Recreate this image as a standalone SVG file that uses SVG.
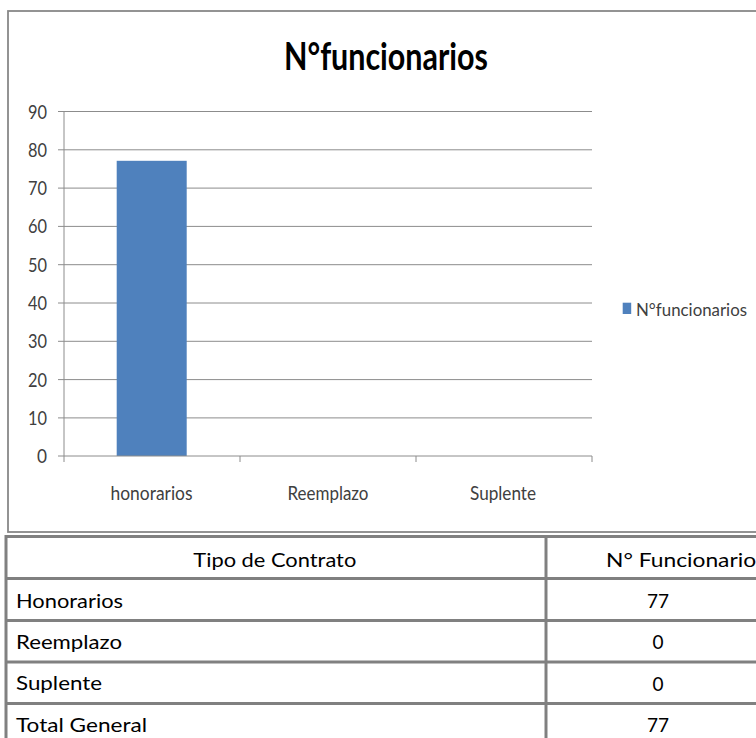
<svg xmlns="http://www.w3.org/2000/svg" width="756" height="738" viewBox="0 0 756 738">
<style>
text{font-family:Lato,"Liberation Sans",Arial,sans-serif;fill:#000}
.ax{font-size:18.5px;fill:#404040}
.leg{font-size:17px;fill:#404040}
.cat{font-size:18.5px;fill:#404040;text-anchor:middle}
.grid{stroke:#8c8c8c;stroke-width:1}
.tb{stroke:#808080;stroke-width:3;fill:none}
.cell{font-size:19px}
.num{font-size:19px;text-anchor:middle}
</style>
<rect width="756" height="738" fill="#fff"/>
<g id="chart">
<rect x="8" y="11" width="760" height="521" fill="#fff" stroke="#888" stroke-width="1.8"/>
<text x="284" y="70" font-size="38" font-weight="bold" textLength="204" lengthAdjust="spacingAndGlyphs">N°funcionarios</text>
<g id="gridlines">
<line class="grid" x1="58" y1="111.5" x2="592" y2="111.5"/>
<line class="grid" x1="58" y1="149.8" x2="592" y2="149.8"/>
<line class="grid" x1="58" y1="188.1" x2="592" y2="188.1"/>
<line class="grid" x1="58" y1="226.4" x2="592" y2="226.4"/>
<line class="grid" x1="58" y1="264.7" x2="592" y2="264.7"/>
<line class="grid" x1="58" y1="303" x2="592" y2="303"/>
<line class="grid" x1="58" y1="341.3" x2="592" y2="341.3"/>
<line class="grid" x1="58" y1="379.6" x2="592" y2="379.6"/>
<line class="grid" x1="58" y1="417.9" x2="592" y2="417.9"/>
</g>
<rect id="bar-honorarios" x="116.7" y="160.8" width="70" height="295.2" fill="#4f81bd"/>
<g id="axes">
<line class="grid" x1="64" y1="111" x2="64" y2="462"/>
<line class="grid" x1="58" y1="456" x2="592" y2="456"/>
<line class="grid" x1="240" y1="456" x2="240" y2="462"/>
<line class="grid" x1="416" y1="456" x2="416" y2="462"/>
<line class="grid" x1="592" y1="456" x2="592" y2="462"/>
</g>
<g id="ylabels" text-anchor="end">
<text class="ax" x="47" y="118.5" textLength="19" lengthAdjust="spacingAndGlyphs">90</text>
<text class="ax" x="47" y="156.8" textLength="19" lengthAdjust="spacingAndGlyphs">80</text>
<text class="ax" x="47" y="195.1" textLength="19" lengthAdjust="spacingAndGlyphs">70</text>
<text class="ax" x="47" y="233.4" textLength="19" lengthAdjust="spacingAndGlyphs">60</text>
<text class="ax" x="47" y="271.7" textLength="19" lengthAdjust="spacingAndGlyphs">50</text>
<text class="ax" x="47" y="310" textLength="19" lengthAdjust="spacingAndGlyphs">40</text>
<text class="ax" x="47" y="348.3" textLength="19" lengthAdjust="spacingAndGlyphs">30</text>
<text class="ax" x="47" y="386.6" textLength="19" lengthAdjust="spacingAndGlyphs">20</text>
<text class="ax" x="47" y="424.9" textLength="19" lengthAdjust="spacingAndGlyphs">10</text>
<text class="ax" x="47" y="463" textLength="10" lengthAdjust="spacingAndGlyphs">0</text>
</g>
<g id="xlabels">
<text class="cat" x="151.5" y="500" textLength="82" lengthAdjust="spacingAndGlyphs">honorarios</text>
<text class="cat" x="328" y="500" textLength="81" lengthAdjust="spacingAndGlyphs">Reemplazo</text>
<text class="cat" x="503" y="500" textLength="66" lengthAdjust="spacingAndGlyphs">Suplente</text>
</g>
<g id="legend">
<rect x="622.7" y="302.7" width="8.5" height="11.3" fill="#4f81bd"/>
<text class="leg" x="636" y="316" textLength="111" lengthAdjust="spacingAndGlyphs">N°funcionarios</text>
</g>
</g>
<g id="table">
<rect class="tb" x="6" y="536.5" width="770" height="220"/>
<line class="tb" x1="546" y1="536.5" x2="546" y2="740"/>
<line class="tb" x1="6" y1="578.5" x2="770" y2="578.5"/>
<line class="tb" x1="6" y1="620.5" x2="770" y2="620.5"/>
<line class="tb" x1="6" y1="662" x2="770" y2="662"/>
<line class="tb" x1="6" y1="703.5" x2="770" y2="703.5"/>
<g id="header">
<text class="cell" x="193.3" y="566.5" textLength="163" lengthAdjust="spacingAndGlyphs">Tipo de Contrato</text>
<text class="cell" x="606" y="566.5" textLength="160" lengthAdjust="spacingAndGlyphs">N° Funcionarios</text>
</g>
<g id="row-honorarios">
<text class="cell" x="16" y="607.5" textLength="107" lengthAdjust="spacingAndGlyphs">Honorarios</text>
<text class="num" x="658" y="608">77</text>
</g>
<g id="row-reemplazo">
<text class="cell" x="16" y="648.5" textLength="106" lengthAdjust="spacingAndGlyphs">Reemplazo</text>
<text class="num" x="658" y="649">0</text>
</g>
<g id="row-suplente">
<text class="cell" x="16" y="690" textLength="86" lengthAdjust="spacingAndGlyphs">Suplente</text>
<text class="num" x="658" y="690.5">0</text>
</g>
<g id="row-total">
<text class="cell" x="16" y="731.5" textLength="131" lengthAdjust="spacingAndGlyphs">Total General</text>
<text class="num" x="658" y="732">77</text>
</g>
</g>
</svg>
